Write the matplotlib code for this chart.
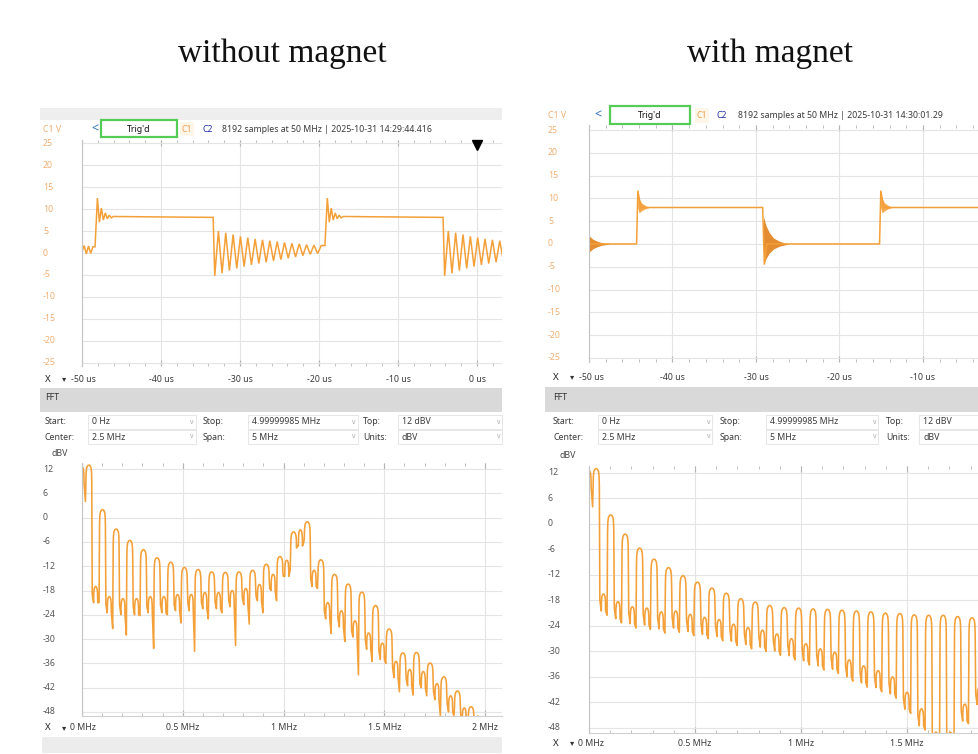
import matplotlib
matplotlib.use('Agg')
import matplotlib.pyplot as plt
from matplotlib.patches import Rectangle
from matplotlib.transforms import blended_transform_factory as blend
from matplotlib.ticker import MultipleLocator

# ------------------------------------------------------------------ data
titles = ['without magnet', 'with magnet']
header_texts = ['8192 samples at 50 MHz | 2025-10-31 14:29:44.416',
                '8192 samples at 50 MHz | 2025-10-31 14:30:01.29']

time_ticks = [-50, -40, -30, -20, -10, 0]
time_tick_labels = ['-50 us', '-40 us', '-30 us', '-20 us', '-10 us', '0 us']
volt_ticks = [25, 20, 15, 10, 5, 0, -5, -10, -15, -20, -25]
freq_ticks = [0, 0.5, 1, 1.5, 2]
freq_tick_labels = ['0 MHz', '0.5 MHz', '1 MHz', '1.5 MHz', '2 MHz']
db_ticks = [12, 6, 0, -6, -12, -18, -24, -30, -36, -42, -48]

fft_row1 = [('Start:', '0 Hz'), ('Stop:', '4.99999985 MHz'), ('Top:', '12 dBV')]
fft_row2 = [('Center:', '2.5 MHz'), ('Span:', '5 MHz'), ('Units:', 'dBV')]

# --- time domain, without magnet (us, V)
L_pre = [0.3, 1.7, -0.2, 1.6, -0.1, 1.4]
L_rise = [-48.35, -19.25]
L_fall = [-33.4, -4.3]
L_high = 8.1
L_overshoot = [12.5, 7.0, 10.2, 7.5, 9.1, 7.8, 8.6, 8.0, 8.3]
L_ring = [-5.2, 5.0, -4.6, 4.6, -4.0, 4.2, -3.5, 3.8, -3.1, 3.5, -2.7, 3.2,
          -2.4, 3.0, -2.1, 2.8, -1.8, 2.6, -1.5, 2.4, -1.2, 2.2, -0.9, 2.1,
          -0.6, 1.9, -0.3, 1.8, -0.1, 1.7]
L_ring_step = 0.465

# --- time domain, with magnet
R_pre = [0.0]
R_rise = [-44.3, -15.2]
R_fall = [-29.2]
R_high = 8.0
R_overshoot = [11.7, 8.0]
R_ring = [-4.5, 0.0]
R_blob_start_t = [-50.0, -49.5, -49.0, -48.5, -48.0, -47.5]
R_blob_start_hi = [1.8, 1.0, 0.6, 0.3, 0.15, 0.02]
R_blob_start_lo = [-1.8, -1.0, -0.6, -0.3, -0.15, -0.02]
R_blob_rise_dt = [0.12, 0.3, 0.6, 1.0, 1.4]
R_blob_rise_hi = [11.7, 10.0, 9.0, 8.5, 8.1]
R_blob_rise_lo = [8.0, 6.8, 7.3, 7.7, 7.9]
R_blob_fall_dt = [0.1, 0.4, 0.8, 1.3, 2.0, 3.0]
R_blob_fall_hi = [6.0, 4.0, 2.5, 1.3, 0.6, 0.05]
R_blob_fall_lo = [-4.6, -3.2, -2.0, -1.1, -0.5, -0.05]

# --- spectra (dBV per harmonic of the switching frequency)
L_f0 = 0.03387   # MHz
L_dc = 12.5
L_odd = [13, 2.0, -2.8, -5.6, -7.9, -9.9, -11.0, -12.3, -12.8, -13.4, -13.5,
         -13.4, -13.0, -11.5, -9.6, -3.5, -1.0, -10.4, -14.0, -16.4, -18.4,
         -21.7, -27.5, -33.4, -33.3, -35.9, -39.3, -42.8, -46.7, -49.5, -51]
L_even = [-17, -19.5, -20, -20, -19.5, -19.5, -19, -19, -18.5, -18.5, -18,
          -17.5, -16.5, -14, -10.5, -3.0, -13, -21, -23, -25.5, -28.5, -31,
          -35.5, -37.5, -38, -41, -44, -47, -49, -51]
L_valley = [4, -19, -21, -21.5, -27.4, -21.5, -29, -22, -24.2, -22, -32.3,
            -21.5, -24, -21.5, -26, -21, -33, -21, -25, -21, -23.5, -20.5,
            -31.6, -20, -26.3, -19.5, -23.5, -17.5, -20.5, -14.5, -13, -7, -6,
            -15, -17.5, -23, -28.6, -25, -30.6, -28, -38.8, -30, -35.5, -33,
            -36, -37, -43, -40, -43.8, -41, -44, -43, -49, -46, -49, -49, -52,
            -52, -53, -53, -53]

R_f0 = 0.0341
R_dc = 12.5
R_odd = [13, 2.1, -2.4, -5.7, -8.3, -10.3, -12.2, -13.7, -15.1, -16.3, -17.6,
         -18.4, -19.2, -19.7, -19.8, -20.0, -20.1, -20.3, -20.5, -20.7, -21.0,
         -21.1, -21.4, -21.5, -21.5, -21.8, -22.1, -22.3]
R_even = [-16.5, -18.3, -19.5, -19.8, -20.7, -20.5, -21.3, -22, -22.5, -23.6,
          -24.4, -25, -25.9, -27, -28.2, -29.4, -30.2, -32, -33.4, -34.5, -36,
          -39.6, -43.5, -49, -49, -42.4, -38.5]
R_valley = [4, -18, -21.5, -19.8, -23.3, -21, -24.5, -21.3, -24.8, -22.2,
            -25.7, -22, -25.5, -22.8, -26.3, -23.5, -27, -24, -27.5, -25.1,
            -28.6, -25.9, -29.4, -26.5, -30, -27.4, -30.9, -28.5, -32, -29.7,
            -33.2, -30.9, -34.4, -31.7, -35.2, -33.5, -37, -34.9, -38.4, -36,
            -39.5, -37.5, -41, -41.1, -44.6, -45, -48.5, -51, -53, -51, -53,
            -44, -47, -40, -43]

# ------------------------------------------------------------------ style
W, H = 979, 754
ORANGE = '#F4A038'
DARK_OR = '#E0801C'
LBL_OR = '#F0AE72'
GRID = '#E4E4E4'
UI = ['Noto Sans', 'DejaVu Sans']
FS = 6.3

fig = plt.figure(figsize=(W / 100, H / 100), dpi=100)
fig.patch.set_facecolor('white')


def rect(x0, y0, x1, y1, fc, ec='none', lw=0.0, z=-1):
    fig.add_artist(Rectangle((x0 / W, 1 - y1 / H), (x1 - x0) / W, (y1 - y0) / H,
                             transform=fig.transFigure, facecolor=fc,
                             edgecolor=ec, linewidth=lw, zorder=z))


def label(x, y, s, size=FS, color='#3a3a3a', ha='left', weight='normal'):
    fig.text(x / W, 1 - y / H, s, ha=ha, va='center', fontsize=size,
             color=color, fontweight=weight, family=UI)


def add_ax(x0, y0, x1, y1):
    return fig.add_axes([x0 / W, 1 - y1 / H, (x1 - x0) / W, (y1 - y0) / H])


def style(ax, xlim, ylim, xmaj, xmin, ymaj, bottom_line):
    ax.set_xticks(xmaj)
    ax.set_yticks(ymaj)
    ax.set_xlim(*xlim)
    ax.set_ylim(*ylim)
    ax.xaxis.set_minor_locator(MultipleLocator(xmin))
    ax.tick_params(which='both', labelbottom=False, labelleft=False, left=False,
                   top=True, bottom=True, direction='in', colors='#b4b4b4')
    ax.tick_params(which='major', length=4, width=0.8)
    ax.tick_params(which='minor', length=2.5, width=0.6)
    ax.grid(True, which='major', color=GRID, lw=0.8)
    ax.set_axisbelow(True)
    for s in ['top', 'right']:
        ax.spines[s].set_visible(False)
    ax.spines['left'].set_color('#c4c4c4')
    ax.spines['bottom'].set_visible(bottom_line)
    ax.spines['bottom'].set_color('#d0d0d0')


def square_trace(pre, rises, falls, high, overshoot, ring, ring_step, t_end,
                 os_start=0.3, os_step=0.25):
    step = (rises[0] + 50) / max(len(pre), 1)
    t = [-50 + i * step for i in range(len(pre))]
    v = list(pre)
    for k, r in enumerate(rises):
        t.append(r)
        v.append(v[-1])
        for i, val in enumerate(overshoot):
            t.append(r + os_start + i * os_step)
            v.append(val)
        if k < len(falls):
            f = falls[k]
            t.append(f)
            v.append(high)
            nxt = rises[k + 1] if k + 1 < len(rises) else t_end
            for i, val in enumerate(ring):
                tt = f + 0.2 + i * ring_step
                if tt > nxt:
                    break
                t.append(tt)
                v.append(val)
        else:
            t.append(t_end)
            v.append(high)
    return t, v


ARCH = [(-1.0, -4.0), (-0.92, -1.8), (-0.75, -0.7), (-0.4, -0.15), (0.0, 0.0),
        (0.4, -0.15), (0.75, -0.7), (0.92, -1.8), (1.0, -4.0)]


def spectrum(f0, dc, odd, even, valley, w_odd=0.43, w_even=0.3):
    levels = {0: dc}
    for i, L in enumerate(odd):
        levels[2 * i + 1] = L
    for i, L in enumerate(even):
        levels[2 * i + 2] = L
    nmax = max(levels)
    xs, ys = [], []
    for n in range(nmax + 1):
        L = levels[n]
        w = w_odd if n % 2 else w_even
        for dx, dl in ARCH:
            x = (n + dx * w) * f0
            if x < 0:
                continue
            xs.append(x)
            ys.append(L + dl)
        if n < len(valley):
            xs.append((n + 0.5) * f0)
            ys.append(valley[n])
    return xs, ys


# ------------------------------------------------------------------ titles
for cx, ttl in zip((282, 770), titles):
    fig.text(cx / W, 1 - 62 / H, ttl, ha='center', va='baseline', fontsize=24,
             family=['Liberation Serif', 'DejaVu Serif'], color='#111111')

# ------------------------------------------------------------------ panels
panels = [
    dict(left=40, right=502, strip=(108, 120), hdr_y=129, box=(101, 120, 177, 137),
         lbl_x=43, arrow_x=91, c1_x=182, c2_x=203, txt_x=222,
         t_ax=(82, 140, 502, 366), t_xlim=(-50, 3.16), t_ylim=(-25.7, 25.7),
         xrow_y=379, xx=45, band=(388, 412), row1=422, row2=437,
         col=[(45, 92, 190), (203, 252, 352), (363, 402, 497)],
         fields=[(88, 196), (248, 358), (398, 502)],
         db_lbl=(52, 454), f_ax=(82, 463, 502, 716), f_xlim=(0, 2.084),
         f_ylim=(-49, 13.5), fxrow_y=728, bottom=(737, 753)),
    dict(left=545, right=979, strip=None, hdr_y=115, box=(610, 106, 690, 124),
         lbl_x=548, arrow_x=594, c1_x=697, c2_x=717, txt_x=738,
         t_ax=(589, 125, 979, 362), t_xlim=(-50, -3.29), t_ylim=(-25.9, 26.1),
         xrow_y=377, xx=553, band=(387, 412), row1=422, row2=437,
         col=[(553, 602, 707), (720, 770, 873), (886, 923, 1010)],
         fields=[(598, 712), (766, 878), (919, 990)],
         db_lbl=(560, 455), f_ax=(589, 466, 979, 733), f_xlim=(0, 1.84),
         f_ylim=(-49.2, 13.6), fxrow_y=743, bottom=None),
]

traces_t = [square_trace(L_pre, L_rise, L_fall, L_high, L_overshoot, L_ring,
                         L_ring_step, 3.5),
            square_trace(R_pre, R_rise, R_fall, R_high, R_overshoot, R_ring,
                         0.3, -3.0, os_start=0.15, os_step=0.35)]
traces_f = [spectrum(L_f0, L_dc, L_odd, L_even, L_valley),
            spectrum(R_f0, R_dc, R_odd, R_even, R_valley)]

for idx, p in enumerate(panels):
    # background pieces
    if p['strip']:
        rect(p['left'], p['strip'][0], p['right'], p['strip'][1], '#eeeeee')
    rect(p['left'], p['band'][0], p['right'], p['band'][1], '#d9d9d9')
    if p['bottom']:
        rect(p['left'] + 2, p['bottom'][0], p['right'], p['bottom'][1], '#ececec')

    # header row
    label(p['lbl_x'], p['hdr_y'], 'C1 V', color=LBL_OR)
    label(p['arrow_x'], p['hdr_y'], '<', size=9, color='#2f6fc0', weight='bold')
    b = p['box']
    rect(b[0], b[1], b[2], b[3], 'white', ec='#55cc55', lw=1.6, z=2)
    label((b[0] + b[2]) / 2, p['hdr_y'], "Trig'd", ha='center', weight='bold',
          color='#111111')
    rect(p['c1_x'] - 2, b[1] + 2, p['c1_x'] + 12, b[3] - 1, '#fff6ea', z=1)
    label(p['c1_x'], p['hdr_y'], 'C1', color='#F0A050')
    label(p['c2_x'], p['hdr_y'], 'C2', color='#2233aa', weight='bold')
    label(p['txt_x'], p['hdr_y'], header_texts[idx], color='#3a3a3a')

    # time-domain plot
    x0, y0, x1, y1 = p['t_ax']
    ax = add_ax(x0, y0, x1, y1)
    style(ax, p['t_xlim'], p['t_ylim'], time_ticks, 2, volt_ticks, False)
    tt, vv = traces_t[idx]
    if idx == 1:
        ax.fill_between(R_blob_start_t, R_blob_start_lo, R_blob_start_hi,
                        color=DARK_OR, lw=0, alpha=0.9)
        for r in R_rise:
            ax.fill_between([r + d for d in R_blob_rise_dt], R_blob_rise_lo,
                            R_blob_rise_hi, color=ORANGE, lw=0, alpha=0.9)
        for f in R_fall:
            ax.fill_between([f + d for d in R_blob_fall_dt], R_blob_fall_lo,
                            R_blob_fall_hi, color=DARK_OR, lw=0, alpha=0.9)
    ax.plot(tt, vv, color=ORANGE, lw=1.1, solid_joinstyle='miter')
    if idx == 0:
        ax.plot([0], [24.6], marker='v', ms=6.5, color='black', clip_on=False)
    ty = blend(fig.transFigure, ax.transData)
    for v in volt_ticks:
        ax.text(p['lbl_x'] / W, v, str(v), transform=ty, ha='left', va='center',
                fontsize=FS, color=LBL_OR, family=UI)
    tx = blend(ax.transData, fig.transFigure)
    label(p['xx'], p['xrow_y'], 'X', size=7, weight='bold', color='#222222')
    label(p['xx'] + 17, p['xrow_y'], '\u25be', size=6, color='#333333')
    label(p['xx'] + 26, p['xrow_y'], time_tick_labels[0])
    for tv, tl in zip(time_ticks[1:], time_tick_labels[1:]):
        if p['t_xlim'][0] < tv < p['t_xlim'][1] - 1:
            ax.text(tv, 1 - p['xrow_y'] / H, tl, transform=tx, ha='center',
                    va='center', fontsize=FS, color='#3a3a3a', family=UI)

    # FFT controls
    label(p['xx'], (p['band'][0] + p['band'][1]) / 2 - 2, 'FFT', color='#333333')
    for (fa, fb) in p['fields']:
        for yy in (p['row1'], p['row2']):
            rect(fa, yy - 7, fb, yy + 7, 'white', ec='#e6e6e6', lw=0.7, z=0)
    for row_y, row in ((p['row1'], fft_row1), (p['row2'], fft_row2)):
        for (cx, vx, chx), (name, val) in zip(p['col'], row):
            label(cx, row_y, name)
            label(vx, row_y, val)
            if chx < W:
                label(chx, row_y, 'v', size=5, color='#aaaaaa')

    # FFT plot
    label(p['db_lbl'][0], p['db_lbl'][1], 'dBV', color='#444444')
    x0, y0, x1, y1 = p['f_ax']
    axf = add_ax(x0, y0, x1, y1)
    style(axf, p['f_xlim'], p['f_ylim'], freq_ticks, 0.1, db_ticks, True)
    fx_, fy_ = traces_f[idx]
    axf.plot(fx_, fy_, color=ORANGE, lw=1.15)
    ty = blend(fig.transFigure, axf.transData)
    for v in db_ticks:
        axf.text(p['lbl_x'] / W, v, str(v), transform=ty, ha='left', va='center',
                 fontsize=FS, color='#555555', family=UI)
    tx = blend(axf.transData, fig.transFigure)
    label(p['xx'], p['fxrow_y'], 'X', size=7, weight='bold', color='#222222')
    label(p['xx'] + 17, p['fxrow_y'], '\u25be', size=6, color='#333333')
    label(p['xx'] + 25, p['fxrow_y'], freq_tick_labels[0])
    for fv, fl in zip(freq_ticks[1:], freq_tick_labels[1:]):
        if fv < p['f_xlim'][1]:
            axf.text(fv, 1 - p['fxrow_y'] / H, fl, transform=tx, ha='center',
                     va='center', fontsize=FS, color='#3a3a3a', family=UI)

fig.savefig('out.png', dpi=100, facecolor='white')
